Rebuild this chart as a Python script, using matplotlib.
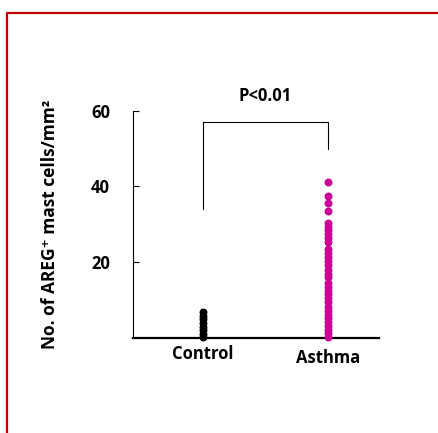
import matplotlib
matplotlib.use("Agg")
import matplotlib.pyplot as plt
from matplotlib.lines import Line2D

plt.rcParams['font.family'] = ['Open Sans', 'DejaVu Sans']

groups = ['Control', 'Asthma']
control = [0.3, 1.0, 2.0, 3.0, 4.0, 5.0, 5.8, 6.8]
asthma = [0.3, 1.2, 2.2, 3.2, 4.2, 5.2, 6.2, 7.2, 8.2, 9.4, 10.5, 11.5, 12.5,
          13.5, 14.6, 16.0, 17.0, 18.0, 19.2, 20.4, 21.4, 22.5, 23.6, 25.4,
          26.4, 27.4, 28.4, 29.4, 30.4, 33.6, 35.6, 37.6, 41.2]
yticks = [20, 40, 60]
bracket_x = [1, 1, 2, 2]
bracket_y = [34, 57.1, 57.1, 49.8]
p_text = 'P<0.01'
ylabel = 'No. of AREG\u207a mast cells/mm\u00b2'

fig = plt.figure(figsize=(4.38, 4.33), dpi=100)
# red frame (left and top edges)
fig.add_artist(Line2D([7 / 438, 7 / 438, 1.0], [0.0, 1 - 13 / 433, 1 - 13 / 433],
                      transform=fig.transFigure, color='#c00000', linewidth=1.6))

ax = fig.add_axes([133 / 438, 1 - 338 / 433, 246 / 438, (338 - 110.7) / 433])

ax.scatter([1] * len(control), control, s=22, color='black', zorder=3, clip_on=False)
ax.scatter([2] * len(asthma), asthma, s=22, color='#cc0099', zorder=3, clip_on=False)

ax.plot(bracket_x, bracket_y, color='black', linewidth=0.8, clip_on=False)
ax.text(1.5, 63.9, p_text, ha='center', va='center', fontsize=12, fontweight='bold')

ax.set_xlim(0.44, 2.41)
ax.set_ylim(0, 60)
ax.set_xticks([1, 2])
ax.set_xticklabels([])
ax.tick_params(axis='x', length=0)
# group names, Asthma sits a bit lower than Control in the original
for x, name, y in zip([1, 2], groups, [-0.070, -0.088]):
    ax.text(x, y, name, transform=ax.get_xaxis_transform(), ha='center', va='center',
            fontsize=12, fontweight='bold')

ax.set_yticks(yticks)
ax.set_yticklabels([str(t) for t in yticks], fontsize=12, fontweight='bold')
ax.tick_params(axis='y', direction='in', length=4, width=0.8, pad=16.5)

ax.spines['top'].set_visible(False)
ax.spines['right'].set_visible(False)
ax.spines['left'].set_linewidth(0.8)
ax.spines['bottom'].set_linewidth(1.6)

ax.set_ylabel(ylabel, fontsize=12.5, fontweight='bold')
ax.yaxis.set_label_coords(-74 / 246, 0.5)

fig.savefig('out.png', dpi=100)
